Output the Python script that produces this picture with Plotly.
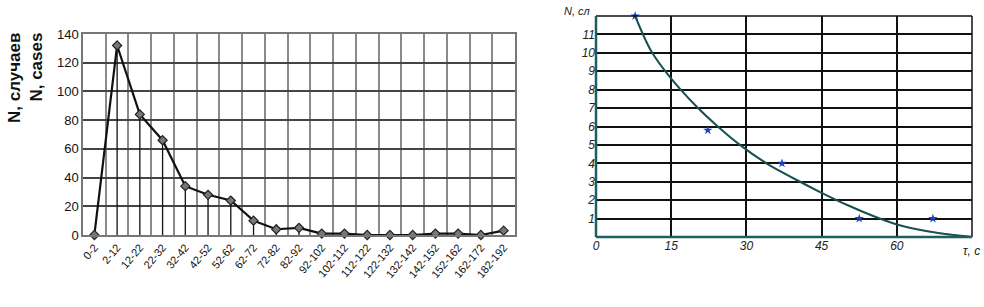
import plotly.graph_objects as go

# Left chart data
categories = ["0-2", "2-12", "12-22", "22-32", "32-42", "42-52", "52-62", "62-72",
              "72-82", "82-92", "92-102", "102-112", "112-122", "122-132", "132-142",
              "142-152", "152-162", "162-172", "182-192"]
cases = [0, 132, 84, 66, 34, 28, 24, 10, 4, 5, 1, 1, 0, 0, 0, 1, 1, 0, 3]
left_yticks = [0, 20, 40, 60, 80, 100, 120, 140]

# Right chart data
obs_t = [7.8, 22.3, 37.1, 52.5, 67.2]
obs_n = [12, 5.8, 4, 1, 1]
curve_t = [7.8, 11, 15, 20, 24.3, 28.7, 34, 40.7, 45, 50, 55.3, 60, 64, 68.6, 75]
curve_n = [12, 10.1, 8.6, 7.1, 6.0, 5.0, 4.0, 3.0, 2.4, 1.75, 1.14, 0.68, 0.42, 0.2, 0]
right_xticks = [0, 15, 30, 45, 60, 75]
right_xlabels = ["0", "15", "30", "45", "60", ""]
right_x_unit = "τ, с"
right_yticks = [1, 2, 3, 4, 5, 6, 7, 8, 9, 10, 11, 12]
right_ylabels = ["1", "2", "3", "4", "5", "6", "7", "8", "9", "10", "11", ""]
right_y_unit = "N, сл"

W, H = 984, 307
narrow = "Liberation Sans Narrow, Arial Narrow, Liberation Sans, sans-serif"


def ital(labels):
    return ["<i>%s</i>" % s if s else "" for s in labels]


fig = go.Figure()

fig.add_trace(go.Scatter(
    x=categories, y=cases, mode="lines+markers",
    line=dict(color="#111111", width=2.2),
    marker=dict(symbol="diamond", size=7, color="#777777",
                line=dict(color="#222222", width=1.2)),
    error_y=dict(type="data", symmetric=False, array=[0] * len(cases),
                 arrayminus=cases, width=0, thickness=1.3, color="#111111"),
    xaxis="x", yaxis="y", showlegend=False, cliponaxis=False))

fig.add_trace(go.Scatter(
    x=curve_t, y=curve_n, mode="lines",
    line=dict(color="#16504f", width=2, shape="spline", smoothing=0.8),
    xaxis="x2", yaxis="y2", showlegend=False))

fig.add_trace(go.Scatter(
    x=obs_t, y=obs_n, mode="markers",
    marker=dict(symbol="star", size=7, color="#1e3fc0"),
    xaxis="x2", yaxis="y2", showlegend=False, cliponaxis=False))

fig.update_layout(
    width=W, height=H, margin=dict(l=0, r=0, t=0, b=0, autoexpand=False),
    paper_bgcolor="white", plot_bgcolor="white",
    xaxis=dict(domain=[83 / W, 515 / W], type="category", range=[-0.5, 18.5],
               tickson="boundaries", showgrid=True, gridcolor="#8a8a8a", gridwidth=1.5,
               showline=True, linecolor="#777777", mirror=True, linewidth=1.5,
               ticks="", tickangle=-50, automargin=False,
               tickfont=dict(family=narrow, size=11, color="#111111"), anchor="y"),
    yaxis=dict(domain=[(H - 235) / H, (H - 34) / H], range=[0, 140],
               tickvals=left_yticks, showgrid=True, gridcolor="#444444", gridwidth=1.5,
               zeroline=False, showline=True, linecolor="#777777", mirror=True,
               linewidth=1.5, ticks="", automargin=False,
               tickfont=dict(family=narrow, size=13, color="#111111"), anchor="x"),
    xaxis2=dict(domain=[596 / W, 972 / W], range=[0, 75], tickvals=right_xticks,
                ticktext=ital(right_xlabels), showgrid=True, gridcolor="#111111",
                gridwidth=1.5, zeroline=False, showline=False, ticks="", tickangle=0,
                automargin=False,
                tickfont=dict(family=narrow, size=12, color="#222222"), anchor="y2"),
    yaxis2=dict(domain=[(H - 237) / H, (H - 16) / H], range=[0, 12],
                tickvals=right_yticks, ticktext=ital(right_ylabels), showgrid=True,
                gridcolor="#111111", gridwidth=1.5, zeroline=False, showline=False,
                ticks="", tickfont=dict(family=narrow, size=12, color="#222222"),
                automargin=False, anchor="x2"),
    shapes=[
        dict(type="line", xref="x2 domain", yref="y2 domain", x0=0, x1=1, y0=1, y1=1,
             line=dict(color="#111111", width=1.5)),
        dict(type="line", xref="x2 domain", yref="y2 domain", x0=1, x1=1, y0=0, y1=1,
             line=dict(color="#111111", width=1.5)),
        dict(type="line", xref="x2 domain", yref="y2 domain", x0=0, x1=0, y0=0, y1=1,
             line=dict(color="#1d5f5e", width=2.5)),
        dict(type="line", xref="x2 domain", yref="y2 domain", x0=0, x1=1, y0=0, y1=0,
             line=dict(color="#1d5f5e", width=2.5)),
    ],
    annotations=[
        dict(text="<b>N, случаев<br>N, cases</b>", xref="paper", yref="paper",
             x=25 / W, y=(H - 78) / H, xanchor="center", yanchor="middle",
             textangle=-90, showarrow=False, align="right",
             font=dict(family="Liberation Sans, Arial, sans-serif", size=17, color="#111111")),
        dict(text="<i>%s</i>" % right_y_unit, xref="paper", yref="paper", x=592 / W,
             y=(H - 11) / H, xanchor="right", yanchor="middle", showarrow=False,
             font=dict(family=narrow, size=11, color="#222222")),
        dict(text="<i>%s</i>" % right_x_unit, xref="paper", yref="paper", x=982 / W,
             y=(H - 251) / H, xanchor="right", yanchor="middle", showarrow=False,
             font=dict(family=narrow, size=12, color="#222222")),
    ],
)

fig.write_html("out.html", config={"displayModeBar": False},
               post_script="document.body.style.margin='0';document.body.style.overflow='hidden';")
